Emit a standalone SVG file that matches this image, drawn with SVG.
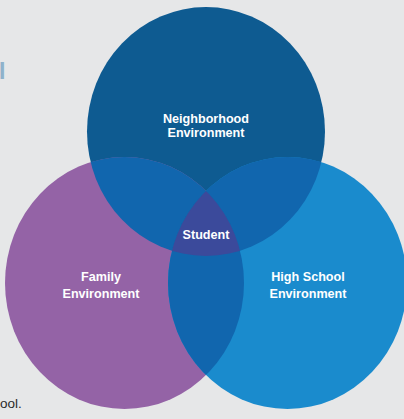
<svg xmlns="http://www.w3.org/2000/svg" width="404" height="419" viewBox="0 0 404 419">
  <style>
    .label { font-family: "Liberation Sans", Arial, sans-serif; font-weight: bold; font-size: 12.6px; fill: #ffffff; text-anchor: middle; }
    .note { font-family: "Liberation Sans", Arial, sans-serif; font-size: 13.5px; fill: #2b2b2b; }
    .frag { font-family: "Liberation Sans", Arial, sans-serif; font-weight: bold; font-size: 23px; fill: #8fb2cb; }
    .pair { fill: #1166ae; }
    .core { fill: #3b4a9b; }
  </style>
  <defs>
    <ellipse id="shapeTop" cx="206" cy="131.5" rx="119" ry="124.5"/>
    <ellipse id="shapeLeft" cx="124.5" cy="283" rx="119.5" ry="126"/>
    <ellipse id="shapeRight" cx="287.5" cy="283" rx="119.5" ry="126"/>
    <clipPath id="clipTop"><use href="#shapeTop"/></clipPath>
    <clipPath id="clipLeft"><use href="#shapeLeft"/></clipPath>
  </defs>

  <!-- page background -->
  <rect x="0" y="0" width="404" height="419" fill="#e6e7e8"/>

  <!-- cropped page text at the edges -->
  <text class="frag" x="-1" y="79">I</text>
  <text class="note" x="0" y="408">ool.</text>

  <!-- base circles -->
  <g id="neighborhood">
    <use href="#shapeTop" fill="#0e5b91"/>
  </g>
  <g id="family">
    <use href="#shapeLeft" fill="#9463a6"/>
  </g>
  <g id="highschool">
    <use href="#shapeRight" fill="#1a8bcd"/>
  </g>

  <!-- pairwise overlaps -->
  <g id="overlaps">
    <use href="#shapeLeft" class="pair" clip-path="url(#clipTop)"/>
    <use href="#shapeRight" class="pair" clip-path="url(#clipTop)"/>
    <use href="#shapeRight" class="pair" clip-path="url(#clipLeft)"/>
  </g>

  <!-- centre where all three meet -->
  <g id="student">
    <g clip-path="url(#clipTop)">
      <use href="#shapeRight" class="core" clip-path="url(#clipLeft)"/>
    </g>
    <text class="label" x="206" y="239">Student</text>
  </g>

  <!-- circle labels -->
  <g id="labels">
    <text class="label" x="206" y="122.5">Neighborhood</text>
    <text class="label" x="206" y="137">Environment</text>
    <text class="label" x="101" y="281">Family</text>
    <text class="label" x="101" y="298">Environment</text>
    <text class="label" x="308" y="281">High School</text>
    <text class="label" x="308" y="298">Environment</text>
  </g>
</svg>
